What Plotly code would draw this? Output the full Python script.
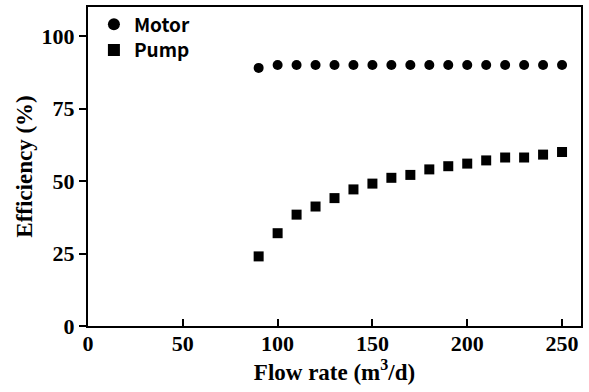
import plotly.graph_objects as go

flow = [90, 100, 110, 120, 130, 140, 150, 160, 170, 180, 190, 200, 210, 220, 230, 240, 250]
motor = [89, 90, 90, 90, 90, 90, 90, 90, 90, 90, 90, 90, 90, 90, 90, 90, 90]
pump = [24, 32, 38.4, 41.2, 44.1, 47.1, 49.1, 51.1, 52.1, 54.0, 55.1, 56.0, 57.1, 58.1, 58.1, 59.1, 60.0]
x_ticks = [0, 50, 100, 150, 200, 250]
y_ticks = [0, 25, 50, 75, 100]

fig = go.Figure()
fig.add_trace(go.Scatter(x=flow, y=motor, mode="markers", name="Motor", legend="legend",
                         marker=dict(symbol="circle", size=10, color="black")))
fig.add_trace(go.Scatter(x=flow, y=pump, mode="markers", name="Pump", legend="legend2",
                         marker=dict(symbol="square", size=10, color="black")))

serif = "Liberation Serif"
legfont = dict(family="Noto Sans CJK KR", size=19, color="black", weight="bold")
fig.update_layout(
    width=589, height=392,
    margin=dict(l=88, r=8, t=5, b=66),
    paper_bgcolor="white", plot_bgcolor="white",
    showlegend=True,
    legend=dict(x=0.012, y=0.9455, xanchor="left", yanchor="middle",
                bgcolor="rgba(0,0,0,0)", itemsizing="constant", font=legfont),
    legend2=dict(x=0.012, y=0.8645, xanchor="left", yanchor="middle",
                 bgcolor="rgba(0,0,0,0)", itemsizing="constant", font=legfont),
    xaxis=dict(range=[0, 260], tickvals=x_ticks, ticks="inside", ticklen=7, tickwidth=2,
               tickcolor="black", showline=True, linewidth=2, linecolor="black", mirror=True,
               showgrid=False, zeroline=False, automargin=False, ticklabelstandoff=-3,
               tickfont=dict(family=serif, size=22, color="black", weight="bold"),
               title=dict(text="Flow rate (m<sup>3</sup>/d)", standoff=8,
                          font=dict(family=serif, size=23, color="black", weight="bold"))),
    yaxis=dict(range=[0, 110], tickvals=y_ticks, ticks="outside", ticklen=7, tickwidth=2,
               tickcolor="black", showline=True, linewidth=2, linecolor="black", mirror=True,
               showgrid=False, zeroline=False, automargin=False,
               tickfont=dict(family=serif, size=22, color="black", weight="bold"),
               title=dict(text="Efficiency (%)", standoff=3,
                          font=dict(family=serif, size=23, color="black", weight="bold"))),
)
fig.write_html("out.html", config={"displayModeBar": False},
               post_script="document.body.style.margin='0';document.body.style.overflow='hidden';")
